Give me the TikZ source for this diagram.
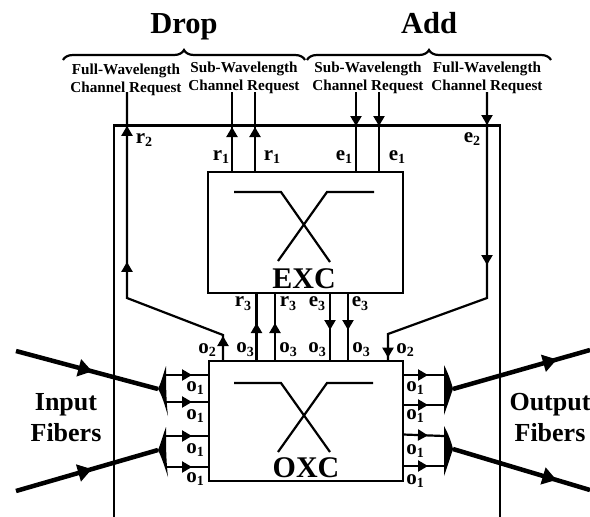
\documentclass[tikz,border=0pt]{standalone}
\usepackage{fontspec}
\setmainfont{Liberation Serif}
\usetikzlibrary{arrows.meta,decorations.markings,decorations.pathreplacing}
\newcommand{\lbl}[2]{#1\raisebox{-.4ex}{\fontsize{14}{14}\selectfont #2}}
\tikzset{
  sig/.style={font=\fontsize{21}{21}\selectfont\bfseries,inner sep=0pt},
  req/.style={font=\fontsize{15.2}{18}\selectfont\bfseries,align=center,inner sep=0pt},
  big/.style={font=\fontsize{30.5}{31}\selectfont\bfseries,anchor=base,inner sep=0pt},
  fib/.style={font=\fontsize{26}{31}\selectfont\bfseries,align=center,inner sep=0pt},
  swname/.style={font=\fontsize{30}{30}\selectfont\bfseries,anchor=base,inner sep=0pt},
  wire/.style={line width=2.2pt},
  tipat/.style={postaction={decorate,decoration={markings,mark=at position #1 with {\arrow{>}}}}},
  fibertip/.style={postaction={decorate,decoration={markings,mark=at position #1 with {\arrow{Triangle[length=14pt,width=17pt]}}}}},
  fiber/.style={line width=4.5pt},
  curly/.style={line width=2.2pt,decorate,decoration={brace,amplitude=10pt,aspect=.5}}
}
\begin{document}
\begin{tikzpicture}[x=1pt,y=-1pt,>={Triangle[length=10pt,width=11pt]}]
\useasboundingbox (0,0) rectangle (590,517);
\path
(208,172) coordinate (excnw)
(403,293) coordinate (excse)
(209,361) coordinate (oxcnw)
(403,481) coordinate (oxcse)
(184,33) node[big] (drop) {Drop}
(429,33) node[big] (add) {Add}
(126,80) node[req] (rq1) {Full-Wavelength\\Channel Request}
(244,78) node[req] (rq2) {Sub-Wavelength\\Channel Request}
(368,78) node[req] (rq3) {Sub-Wavelength\\Channel Request}
(487,78) node[req] (rq4) {Full-Wavelength\\Channel Request}
(66,418) node[fib] (infib) {Input\\Fibers}
(550,418) node[fib] (outfib) {Output\\Fibers}
(304,288) node[swname] (exc) {EXC}
(306,477) node[swname] (oxc) {OXC};

% outer frame, open at the bottom
\draw[wire] (114,517) |- (500,125.5) -- (500,517);
\draw[wire] (excnw) rectangle (excse);
\draw[wire] (oxcnw) rectangle (oxcse);

% crossed bars
\draw[wire] (234,192)--(281,192)--(330,262);
\draw[wire] (374,192)--(327,192)--(278,261);
\draw[wire] (234,383)--(281,383)--(330,452);
\draw[wire] (373,383)--(327,383)--(278,452);

% braces
\draw[curly] (63,60)--(305,60);
\draw[curly] (307,60)--(551,60);

% full wavelength paths
\draw[wire,tipat=25pt,tipat=165pt,tipat=301pt] (223,361)--(223,335)--(127,298)--(127,92);
\draw[wire,tipat=33pt,tipat=173pt,tipat=335pt] (487,92)--(487,298)--(388,334)--(388,361);

% sub wavelength paths
\draw[wire,tipat=45pt] (232,172)--(232,92);
\draw[wire,tipat=45pt] (255,172)--(255,92);
\draw[wire,tipat=34pt] (356,92)--(356,172);
\draw[wire,tipat=34pt] (379,92)--(379,172);

% between the switches
\draw[wire,tipat=38pt] (256.5,361)--(256.5,293);
\draw[wire,tipat=38pt] (275,361)--(275,293);
\draw[wire,tipat=37pt] (330,293)--(330,361);
\draw[wire,tipat=37pt] (348,293)--(348,361);

% fans
\path
(158,389) coordinate (inAtip)
(158,450) coordinate (inBtip)
(453,389) coordinate (outAtip)
(453,449) coordinate (outBtip);
\fill (166,366) .. controls (163,375) and (161,383) .. (inAtip) .. controls (162,395) and (165,406) .. (168,416) .. controls (166,400) and (166,380) .. cycle;
\fill (166,427) .. controls (163,435) and (161,443) .. (inBtip) .. controls (162,458) and (165,468) .. (168,477) .. controls (166,460) and (166,445) .. cycle;
\fill (444,365) .. controls (448,373) and (451,381) .. (outAtip) .. controls (450,397) and (447,407) .. (444,415) -- cycle;
\fill (444,426) .. controls (448,433) and (451,441) .. (outBtip) .. controls (450,458) and (447,468) .. (444,476) -- cycle;

% fibers
\draw[fiber,fibertip=79pt] (16,351)--(inAtip);
\draw[fiber,fibertip=79pt] (16,491)--(inBtip);
\draw[fiber,fibertip=108pt] (outAtip)--(590,350);
\draw[fiber,fibertip=108pt] (outBtip)--(590,490);

% fan to switch
\foreach \yy in {375,402,436,467}{
  \draw[wire,tipat=26pt] (166,\yy)--(208,\yy);
}
\draw[wire,tipat=25pt] (403,375)--(444,375);
\draw[wire,tipat=25pt] (403,405)--(444,405);
\draw[wire,tipat=25pt] (403,434.5)--(444,436);
\draw[wire,tipat=25pt] (403,466)--(444,466);

% signal labels
\path
(144,140) node[sig] (r2) {\lbl{r}{2}}
(221,157) node[sig] (r1a) {\lbl{r}{1}}
(272,157) node[sig] (r1b) {\lbl{r}{1}}
(344,157) node[sig] (e1a) {\lbl{e}{1}}
(397,157) node[sig] (e1b) {\lbl{e}{1}}
(472,139) node[sig] (e2) {\lbl{e}{2}}
(243,304) node[sig] (r3a) {\lbl{r}{3}}
(288,304) node[sig] (r3b) {\lbl{r}{3}}
(317,304) node[sig] (e3a) {\lbl{e}{3}}
(360,304) node[sig] (e3b) {\lbl{e}{3}}
(207,350) node[sig] (o2a) {\lbl{o}{2}}
(245,350) node[sig] (o3a) {\lbl{o}{3}}
(288,350) node[sig] (o3b) {\lbl{o}{3}}
(317,350) node[sig] (o3c) {\lbl{o}{3}}
(361,350) node[sig] (o3d) {\lbl{o}{3}}
(405,350) node[sig] (o2b) {\lbl{o}{2}}
(195,388) node[sig] (o1a) {\lbl{o}{1}}
(195,416) node[sig] (o1b) {\lbl{o}{1}}
(195,450) node[sig] (o1c) {\lbl{o}{1}}
(195,479) node[sig] (o1d) {\lbl{o}{1}}
(415,388) node[sig] (o1e) {\lbl{o}{1}}
(415,416) node[sig] (o1f) {\lbl{o}{1}}
(415,451) node[sig] (o1g) {\lbl{o}{1}}
(415,481) node[sig] (o1h) {\lbl{o}{1}};
\end{tikzpicture}
\end{document}
